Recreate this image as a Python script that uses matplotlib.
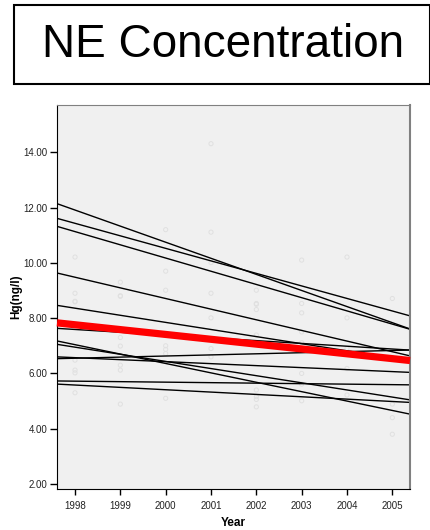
import numpy as np
import matplotlib
matplotlib.use("Agg")
import matplotlib.pyplot as plt
from matplotlib.patches import Rectangle

plt.rcParams['font.family'] = ['Liberation Sans', 'DejaVu Sans']

# faint observed points (year, Hg)
pt_year = [1998, 1998, 1998, 1998, 1998, 1998, 1998, 1998,
           1999, 1999, 1999, 1999, 1999, 1999, 1999, 1999,
           2000, 2000, 2000, 2000, 2000, 2000, 2000,
           2001, 2001, 2001, 2001, 2001, 2001, 2001,
           2002, 2002, 2002, 2002, 2002, 2002, 2002, 2002, 2002,
           2003, 2003, 2003, 2003, 2003, 2003, 2003, 2003,
           2004, 2004, 2004, 2004, 2004,
           2005, 2005, 2005, 2005]
pt_hg = [10.21, 8.90, 8.61, 6.48, 6.12, 6.02, 5.30, 8.59,
         9.30, 8.81, 7.30, 6.99, 6.30, 6.12, 4.89, 8.79,
         11.20, 9.70, 9.01, 7.00, 6.87, 6.72, 5.10,
         14.31, 11.11, 10.01, 8.90, 8.01, 6.90, 6.60,
         9.01, 8.53, 8.31, 7.39, 5.40, 5.16, 5.06, 4.79, 8.50,
         10.10, 8.53, 8.19, 7.50, 7.11, 6.00, 5.61, 5.01,
         10.21, 8.01, 6.90, 6.18, 5.22,
         8.71, 4.89, 4.40, 3.80]

# individual fitted lines: value at 1998 and slope per year
fit_at_1998 = [11.91, 11.43, 11.13, 9.48, 8.36, 7.59, 7.04, 6.95, 6.57, 6.55, 5.72, 5.58]
fit_slope = [-0.582, -0.453, -0.478, -0.385, -0.257, -0.101, -0.340, -0.258, -0.072, 0.040, -0.018, -0.085]

# overall fit (red)
mean_at_1998 = 7.76
mean_slope = -0.175

years = [1998, 1999, 2000, 2001, 2002, 2003, 2004, 2005]
yticks = [2, 4, 6, 8, 10, 12, 14]

fig = plt.figure(figsize=(4.3, 5.3), dpi=100)
ax = fig.add_axes([0.1326, 0.0774, 0.8209, 0.7245])
ax.set_facecolor('#f0f0f0')

xlim = (1997.603, 2005.39)
ax.set_xlim(xlim)
ax.set_ylim(1.82, 15.71)

ax.scatter(pt_year, pt_hg, s=9, facecolors='none', edgecolors='#e0e0e0', linewidths=0.7, zorder=1)

xx = np.array(xlim)
for b, m in zip(fit_at_1998, fit_slope):
    ax.plot(xx, b + m * (xx - 1998), color='black', lw=1.0, zorder=2)
ax.plot(xx, mean_at_1998 + mean_slope * (xx - 1998), color='#ff0000', lw=5.2,
        solid_capstyle='butt', zorder=3, clip_on=False)

ax.set_xticks(years)
ax.set_xticklabels([str(y) for y in years])
ax.set_yticks(yticks)
ax.set_yticklabels(['%.2f' % v for v in yticks])
ax.tick_params(axis='x', length=4, width=1, labelsize=7, colors='black', pad=5)
ax.tick_params(axis='y', length=5, width=1, labelsize=7, colors='black', pad=2)
for lab in ax.get_xticklabels() + ax.get_yticklabels():
    lab.set_color('#222222')

ax.set_xlabel('Year', fontsize=8.5, fontweight='bold', labelpad=4)
ax.set_ylabel('Hg(ng/l)', fontsize=8.5, fontweight='bold', labelpad=1)

ax.spines['left'].set_color('black')
ax.spines['bottom'].set_color('black')
ax.spines['top'].set_color('#808080')
ax.spines['right'].set_color('#808080')
ax.spines['right'].set_linewidth(1.5)

# boxed title
fig.patches.append(Rectangle((14 / 430, 1 - 84 / 530), (430 - 14) / 430, (84 - 5) / 530,
                             transform=fig.transFigure, fill=False, edgecolor='black',
                             lw=1.5, clip_on=False))
fig.text(223 / 430, 1 - 45 / 530, 'NE Concentration', fontsize=33, ha='center', va='center')

fig.savefig('out.png', dpi=100)
